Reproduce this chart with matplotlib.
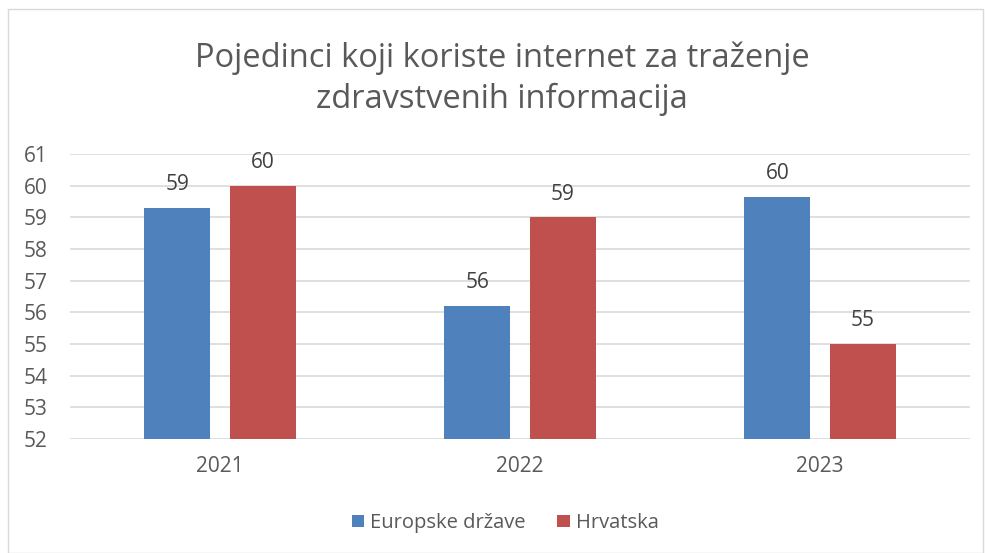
import matplotlib.pyplot as plt
import numpy as np
from matplotlib.patches import Rectangle

plt.rcParams['font.family'] = ['Open Sans', 'DejaVu Sans']

years = ['2021', '2022', '2023']
europe = [59.3, 56.2, 59.65]
croatia = [60.0, 59.0, 55.0]
europe_labels = ['59', '56', '60']
croatia_labels = ['60', '59', '55']

blue = '#4F81BD'
red = '#C0504D'
txt = '#595959'

fig = plt.figure(figsize=(9.85, 5.53), dpi=100)
ax = fig.add_axes([70 / 985, 1 - 439 / 553, 900 / 985, 285 / 553])

x = np.arange(len(years))
w = 0.22
off = 0.1417
b1 = ax.bar(x - off, [v - 52 for v in europe], w, bottom=52, color=blue, label='Europske države', zorder=3)
b2 = ax.bar(x + off, [v - 52 for v in croatia], w, bottom=52, color=red, label='Hrvatska', zorder=3)

for i in range(len(years)):
    ax.text(x[i] - off, europe[i] + 0.4, europe_labels[i], ha='center', va='bottom',
            fontsize=15, color='#404040')
    ax.text(x[i] + off, croatia[i] + 0.4, croatia_labels[i], ha='center', va='bottom',
            fontsize=15, color='#404040')

ax.set_xlim(-0.5, 2.5)
ax.set_ylim(52, 61)
ax.set_yticks(range(52, 62))
ax.set_xticks(x)
ax.set_xticklabels(years)
ax.tick_params(axis='both', length=0, labelsize=15, colors=txt)
ax.tick_params(axis='y', pad=16)
ax.tick_params(axis='x', pad=12)
ax.grid(axis='y', color='#D9D9D9', linewidth=1.2, zorder=0)
for s in ax.spines.values():
    s.set_visible(False)

fig.text(502 / 985, 1 - 79 / 553, 'Pojedinci koji koriste internet za traženje\nzdravstvenih informacija',
         ha='center', va='center', fontsize=23.5, color=txt, linespacing=1.3)

leg = fig.legend(handles=[b1, b2], loc='center', bbox_to_anchor=(505 / 985, 1 - 523 / 553),
                 ncol=2, frameon=False, fontsize=14.5, handlelength=0.6, handleheight=0.6,
                 columnspacing=1.6, handletextpad=0.3)
for t in leg.get_texts():
    t.set_color(txt)

fig.patches.append(Rectangle((8 / 985, 0.5 / 553), 975 / 985, 1 - 9 / 553, transform=fig.transFigure,
                             fill=False, edgecolor='#D9D9D9', linewidth=1))

fig.savefig('out.png', dpi=100)
